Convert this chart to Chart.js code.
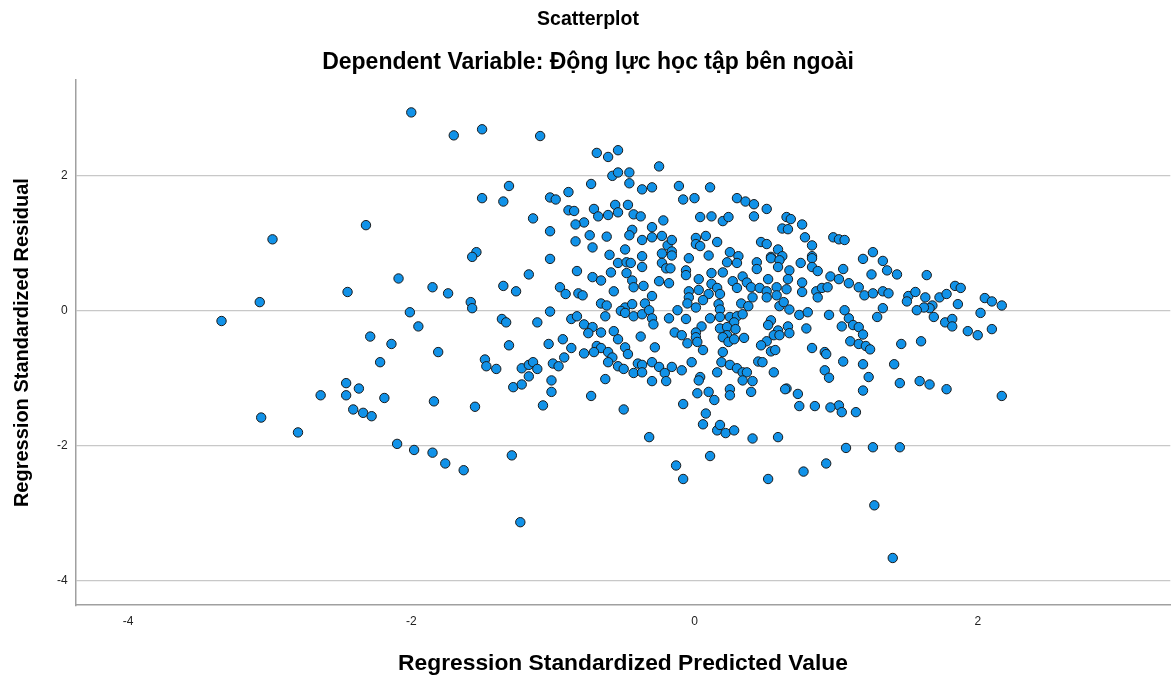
<!DOCTYPE html>
<html>
<head>
<meta charset="utf-8">
<title>Scatterplot</title>
<script src="https://cdn.jsdelivr.net/npm/chart.js@4.4.0/dist/chart.umd.min.js"></script>
<style>
  body { margin: 0; background: #fff; }
  #chart { display: block; }
</style>
</head>
<body>
<canvas id="chart" width="1176" height="677"></canvas>
<script>
// Regression Standardized Predicted Value (x) / Residual (y)
var predicted = [
  -2.00, -1.70, -1.50, -1.50, -2.98, -2.32, -1.54, -1.57, -2.09, -2.45,
  -3.07, -1.85, -1.74, -1.58, -1.57, -2.01, -1.95, -3.34, -2.29, -2.14,
  -1.81, -1.48, -1.47, -2.22, -2.46, -2.37, -2.64, -2.46, -2.19, -1.84,
  -1.55, -2.41, -2.34, -2.28, -3.06, -2.80, -2.10, -1.98, -1.85, -1.76,
  -1.63, -1.09, -0.69, -0.61, -0.54, -0.25, -0.58, -0.54, -0.46, -0.46,
  -0.73, -1.31, -0.37, -0.30, -1.35, -1.02, -0.98, -0.89, -0.71, -0.56,
  -0.54, -0.61, -0.68, -0.47, -0.43, -0.38, -0.89, -0.85, -1.14, -0.78,
  -0.84, -0.22, -0.30, -1.02, -0.44, -0.46, -0.74, -0.62, -0.84, -0.37,
  -0.30, -0.23, -0.72, -0.49, -0.60, -0.37, -0.23, -0.19, -1.02, -0.11,
   0.11, -0.08,  0.00,  0.30,  0.36,  0.42,  0.51,  0.04,  0.12,  0.20,
   0.24,  0.42,  0.65,  0.68,  0.62,  0.66,  0.76,  0.78,  0.83,  0.98,
   1.02,  1.06, -0.16,  0.01,  0.08,  0.01,  0.04,  0.16, -0.16,  0.47,
   0.51,  0.59, -0.04,  0.10,  0.25,  0.31,  0.83,  0.54,  0.62,  1.26,
   1.19,  1.33, -1.17, -0.83, -1.35, -1.26, -0.95, -0.91, -0.82, -0.79,
  -0.72, -0.66, -0.59, -0.54, -0.48, -0.45, -0.48, -0.44, -0.43, -0.57,
  -0.37, -0.36, -0.23, -0.20, -0.25, -0.18, -0.30, -1.02, -0.66, -0.62,
  -0.49, -0.44, -0.52, -0.49, -0.43, -0.35, -0.37, -0.32, -0.30, -0.29,
  -0.63, -1.36, -1.33, -1.11, -0.87, -0.83, -0.78, -0.72, -0.75, -0.66,
  -0.57, -0.54, -0.38, -0.28, -1.31, -1.03, -0.93, -0.87, -0.92, -0.78,
  -0.69, -0.66, -0.61, -0.58, -0.71, -0.49, -0.47, -0.61, -0.54, -0.50,
  -0.40, -0.37, -0.43, -0.37, -0.30, -0.25, -0.21, -0.20, -0.30, -1.40,
  -1.22, -1.17, -1.14, -1.11, -1.17, -1.00, -0.96, -1.28, -1.22, -1.01,
  -0.63, -0.17, -0.16,  0.23,  0.30,  0.44,  0.44,  0.54,  0.60,  0.59,
   0.67,  0.75,  0.83,  0.83,  0.87,  1.05,  0.96,  1.02, -0.06, -0.06,
   0.03,  0.12,  0.12,  0.20,  0.27,  0.30,  0.34,  0.37,  0.40,  0.46,
   0.51,  0.52,  0.58,  0.58,  0.51,  0.66,  0.65,  0.76,  0.76,  0.86,
   0.87,  0.90,  0.94, -0.04, -0.04, -0.05,  0.01,  0.03,  0.10,  0.16,
   0.18,  0.06,  0.17,  0.18,  0.18, -0.12, -0.18, -0.06,  0.11,  0.25,
   0.30,  0.34,  0.28,  0.33,  0.38,  0.41,  0.60,  0.63,  0.67,  0.74,
   0.80,  0.95,  1.06,  1.04,  0.79,  0.54,  0.52,  0.59,  0.66,  0.67,
   0.56,  0.60,  0.51,  0.47,  0.54,  0.57,  0.45,  0.48,  0.56,  0.18,
   0.23,  0.23,  0.29,  0.20,  0.24,  0.28,  0.35,  0.20,  0.05,  0.01,
   0.01,  0.02, -0.05,  0.06, -0.14, -0.09, -0.16, -0.09, -0.02,  0.04,
   0.19,  0.25,  0.30,  0.34,  0.37,  0.16,  0.41,  0.83,  0.92,  0.93,
   1.05,  0.92,  0.95,  0.65,  1.25,  1.36,  1.43,  1.64,  1.09,  1.16,
   1.20,  1.26,  1.33,  1.37,  1.51,  1.56,  1.63,  1.50,  1.73,  1.78,
   1.84,  1.88,  2.05,  2.10,  2.17,  1.86,  1.68,  1.66,  1.69,  1.62,
   1.57,  1.33,  1.29,  1.09,  1.77,  1.82,  1.82,  1.93,  2.00,  2.02,
   2.10,  1.12,  1.16,  1.19,  1.10,  1.16,  1.21,  1.24,  1.46,  1.60,
   1.19,  1.41,  1.23,  1.45,  1.59,  1.66,  1.78,  1.19,  2.17,  1.02,
   1.04,  1.14,  1.07,  1.26,  1.45,  1.27,  1.40,  0.02,  0.10,  0.14,
   0.25,  0.25,  0.40,  0.34, -0.08,  0.08,  0.06,  0.16,  0.18,  0.22,
   0.28,  0.41,  0.59,  0.64,  0.73,  0.74,  0.85,  0.96,  0.11, -0.13,
  -0.08,  0.52,  0.77,  0.93, -1.01, -1.07, -0.73, -0.50, -0.32, -1.29,
  -1.23,  0.03
];

var residual = [
   2.93,  2.59,  2.68,  1.66,  1.05,  1.26,  0.86,  0.79,  0.47,  0.27,
   0.12,  0.34,  0.25,  0.12,  0.03, -0.03, -0.24, -0.16, -0.39, -0.50,
  -0.62, -0.73, -0.83, -0.77, -1.08, -1.16, -1.26, -1.26, -1.30, -1.35,
  -1.43, -1.47, -1.52, -1.57, -1.59, -1.81, -1.98, -2.07, -2.11, -2.27,
  -2.37,  2.58,  2.33,  2.27,  2.37,  2.13,  1.99,  2.04,  2.04,  1.88,
   1.87,  1.84,  1.79,  1.82,  1.61,  1.67,  1.64,  1.75,  1.50,  1.56,
   1.45,  1.41,  1.39,  1.56,  1.42,  1.39,  1.48,  1.47,  1.36,  1.30,
   1.27,  1.33,  1.23,  1.17,  1.19,  1.11,  1.11,  1.09,  1.02,  1.04,
   1.08,  1.10,  0.93,  0.90,  0.82,  0.80,  0.84,  0.96,  0.76,  1.84,
   1.82,  1.64,  1.66,  1.66,  1.61,  1.57,  1.50,  1.38,  1.39,  1.32,
   1.38,  1.39,  1.38,  1.35,  1.21,  1.20,  1.27,  1.08,  0.96,  1.08,
   1.05,  1.04,  1.04,  1.07,  1.10,  0.98,  0.95,  1.01,  0.87,  1.01,
   0.98,  0.90,  0.77,  0.81,  0.86,  0.80,  0.80,  0.79,  0.80,  0.86,
   0.76,  0.73,  0.53,  0.58,  0.36,  0.28,  0.34,  0.24,  0.25,  0.22,
   0.49,  0.44,  0.56,  0.70,  0.71,  0.70,  0.55,  0.44,  0.34,  0.28,
   0.64,  0.36,  0.70,  0.62,  0.43,  0.40,  0.21, -0.02,  0.10,  0.07,
   0.04,  0.09, -0.01, -0.04, -0.09,  0.10, -0.06,  0.00, -0.12, -0.21,
  -0.09, -0.13, -0.18, -0.18, -0.13, -0.09, -0.21, -0.25, -0.34, -0.33,
  -0.31, -0.43, -0.39, -0.55, -0.52, -0.50, -0.43, -0.56, -0.70, -0.64,
  -0.53, -0.56, -0.62, -0.70, -0.62, -0.55, -0.65, -0.77, -0.83, -0.87,
  -0.79, -0.81, -0.93, -0.92, -0.77, -0.84, -0.93, -1.05, -1.05, -0.87,
  -0.86, -0.81, -0.77, -0.87, -0.98, -0.79, -0.83, -1.14, -1.10, -1.04,
  -1.02,  0.62,  0.81,  0.71,  0.70,  0.71,  0.61,  0.77,  0.74,  0.64,
   0.59,  0.70,  0.77,  0.64,  0.58,  0.61,  0.50,  0.46,  0.59,  0.52,
   0.46,  0.55,  0.39,  0.56,  0.43,  0.33,  0.50,  0.41,  0.34,  0.33,
   0.28,  0.46,  0.34,  0.22,  0.19,  0.46,  0.31,  0.41,  0.27,  0.28,
   0.19,  0.33,  0.34,  0.28,  0.19,  0.10,  0.04,  0.30,  0.24,  0.33,
   0.24,  0.15,  0.09,  0.01, -0.10,  0.00, -0.12, -0.13, -0.12, -0.10,
  -0.09, -0.06, -0.18,  0.10,  0.06,  0.19,  0.06,  0.12,  0.01, -0.07,
  -0.03, -0.07,  0.00, -0.24, -0.27, -0.15, -0.22, -0.30, -0.24, -0.34,
  -0.37, -0.37, -0.46, -0.52, -0.61, -0.59, -0.76, -0.77, -0.92, -0.27,
  -0.25, -0.37, -0.28, -0.40, -0.47, -0.43, -0.41, -0.62, -0.24, -0.33,
  -0.40, -0.47, -0.49, -0.59, -0.33, -0.37, -0.84, -0.89, -0.77, -0.99,
  -0.77, -0.81, -0.86, -0.92, -0.92, -0.92, -1.05, -0.56, -0.62, -0.65,
  -0.76, -0.89, -1.00, -1.16,  0.53,  0.59,  0.53,  0.52,  0.40,  0.34,
   0.22,  0.25,  0.28,  0.25,  0.21,  0.27,  0.19,  0.13,  0.19,  0.24,
   0.36,  0.33,  0.18,  0.13,  0.07,  0.09,  0.07,  0.03, -0.10,  0.04,
   0.00,  0.03, -0.10, -0.12, -0.18, -0.13, -0.24, -0.31, -0.37, -0.04,
  -0.28, -0.22, -0.25, -0.36, -0.46, -0.50, -0.53, -0.58, -0.50, -0.46,
  -0.80, -0.80, -0.99, -1.08, -1.05, -1.10, -1.17, -1.19, -1.27, -1.41,
  -1.51, -1.51, -2.04, -2.03, -2.03, -2.89, -3.67, -1.23, -1.21, -1.33,
  -1.17, -1.26, -1.21, -1.04, -1.39, -1.53, -1.69, -1.78, -1.70, -1.82,
  -1.78, -1.90, -1.88, -1.17, -1.24, -1.42, -1.42, -1.44, -2.16, -2.30,
  -2.50, -2.50, -2.39, -2.27, -1.21, -1.41, -1.27, -1.47, -1.88, -2.15,
  -3.14, -1.04
];

var tickValues = [-4, -2, 0, 2];

var chartTitle = 'Scatterplot';
var chartSubtitle = 'Dependent Variable: Động lực học tập bên ngoài';
var xTitle = 'Regression Standardized Predicted Value';
var yTitle = 'Regression Standardized Residual';

var points = predicted.map(function (x, i) {
  return { x: x, y: residual[i] };
});

var fontFamily = "'Liberation Sans', Arial, sans-serif";

function fixedTicks(scale) {
  scale.ticks = tickValues.map(function (v) { return { value: v }; });
}

new Chart(document.getElementById('chart'), {
  type: 'scatter',
  data: {
    datasets: [{
      data: points,
      pointRadius: 4.7,
      pointHoverRadius: 4.7,
      pointBackgroundColor: '#1192e8',
      pointBorderColor: '#1a1a1a',
      pointBorderWidth: 1
    }]
  },
  options: {
    responsive: false,
    animation: false,
    devicePixelRatio: 1,
    layout: { padding: 0 },
    plugins: {
      legend: { display: false },
      tooltip: { enabled: false },
      title: {
        display: true,
        text: chartTitle,
        color: '#000',
        font: { family: fontFamily, size: 19.5, weight: 'bold' },
        padding: { top: 8, bottom: 8 }
      },
      subtitle: {
        display: true,
        text: chartSubtitle,
        color: '#000',
        font: { family: fontFamily, size: 23, weight: 'bold' },
        padding: { top: 9, bottom: 4 }
      }
    },
    scales: {
      x: {
        type: 'linear',
        min: -4.37,
        max: 3.36,
        afterBuildTicks: fixedTicks,
        grid: { display: false, drawTicks: false },
        border: { display: true, color: '#a0a0a0', width: 1.5 },
        ticks: {
          padding: 9,
          color: '#222',
          font: { family: fontFamily, size: 12 }
        },
        title: {
          display: true,
          text: xTitle,
          color: '#000',
          font: { family: fontFamily, size: 22.8, weight: 'bold' },
          padding: { top: 12, bottom: 0 }
        }
      },
      y: {
        type: 'linear',
        min: -4.37,
        max: 3.41,
        afterBuildTicks: fixedTicks,
        grid: { color: '#c8c8c8', lineWidth: 1.3, drawTicks: false },
        border: { display: true, color: '#a0a0a0', width: 1.5 },
        ticks: {
          padding: 8,
          color: '#222',
          font: { family: fontFamily, size: 12 }
        },
        title: {
          display: true,
          text: yTitle,
          color: '#000',
          font: { family: fontFamily, size: 20, weight: 'bold' },
          padding: { top: 10, bottom: 15 }
        }
      }
    }
  }
});
</script>
</body>
</html>
